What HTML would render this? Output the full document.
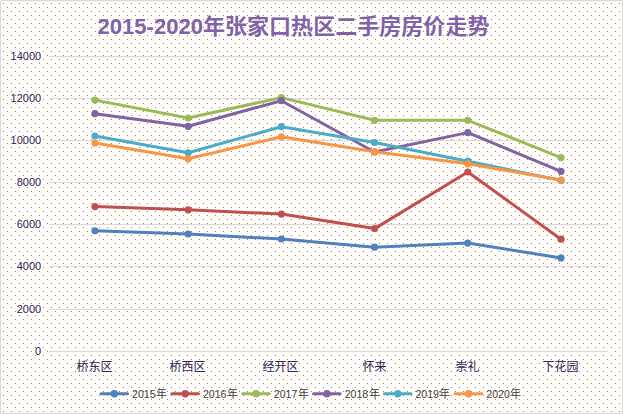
<!DOCTYPE html>
<html lang="zh"><head><meta charset="utf-8"><title>2015-2020年张家口热区二手房房价走势</title>
<style>html,body{margin:0;padding:0;background:#fff}body{width:623px;height:414px;overflow:hidden;font-family:"Liberation Sans",sans-serif}svg{display:block}text{font-family:"Liberation Sans","Noto Sans CJK SC",sans-serif}</style>
</head><body>
<svg width="623" height="414" viewBox="0 0 623 414" role="img" aria-label="2015-2020年张家口热区二手房房价走势">
<defs><pattern id="dots" x="0" y="0" width="8" height="8" patternUnits="userSpaceOnUse"><rect x="3" y="3" width="1" height="1" fill="#E46C0A"/><rect x="7" y="7" width="1" height="1" fill="#E46C0A"/></pattern></defs>
<rect x="0" y="0" width="623" height="414" fill="#fff"/>
<rect x="0" y="0" width="623" height="414" fill="url(#dots)" shape-rendering="crispEdges"/>
<rect x="0.5" y="0.5" width="622" height="413" fill="none" stroke="#D9D9D9" stroke-width="1" shape-rendering="crispEdges"/>
<rect x="0" y="0" width="1" height="1" fill="#fff"/><rect x="622" y="0" width="1" height="1" fill="#ECECEC"/><rect x="0" y="413" width="1" height="1" fill="#ECECEC"/><rect x="622" y="413" width="1" height="1" fill="#ECECEC"/>
<g fill="#D9D9D9" shape-rendering="crispEdges">
<rect x="49" y="56" width="559" height="1"/>
<rect x="49" y="98" width="559" height="1"/>
<rect x="49" y="140" width="559" height="1"/>
<rect x="49" y="182" width="559" height="1"/>
<rect x="49" y="224" width="559" height="1"/>
<rect x="49" y="266" width="559" height="1"/>
<rect x="49" y="309" width="559" height="1"/>
<rect x="49" y="351" width="559" height="1"/>
</g>
<g fill="#2D2252" font-size="11" text-anchor="end">
<text x="41.2" y="60.3">14000</text>
<text x="41.2" y="102.3">12000</text>
<text x="41.2" y="144.3">10000</text>
<text x="41.2" y="186.3">8000</text>
<text x="41.2" y="228.3">6000</text>
<text x="41.2" y="270.3">4000</text>
<text x="41.2" y="313.3">2000</text>
<text x="41.2" y="355.3">0</text>
</g>
<text x="293.5" y="34" font-size="21.3" font-weight="bold" text-anchor="middle" textLength="392" lengthAdjust="spacingAndGlyphs" fill="#7F63A8" style='font-family:"Liberation Sans","Noto Sans CJK SC",sans-serif'>2015-2020年张家口热区二手房房价走势</text>
<g stroke="#4F81BD" fill="#4F81BD"><polyline points="94.95,230.75 188.15,234.00 281.35,239.00 374.60,247.20 467.80,243.10 561.00,257.90" fill="none" stroke-width="3" stroke-linejoin="round" stroke-linecap="round"/>
<circle cx="94.95" cy="230.75" r="3.6" stroke="none"/>
<circle cx="188.15" cy="234.00" r="3.6" stroke="none"/>
<circle cx="281.35" cy="239.00" r="3.6" stroke="none"/>
<circle cx="374.60" cy="247.20" r="3.6" stroke="none"/>
<circle cx="467.80" cy="243.10" r="3.6" stroke="none"/>
<circle cx="561.00" cy="257.90" r="3.6" stroke="none"/>
</g>
<g stroke="#C0504D" fill="#C0504D"><polyline points="94.95,206.60 188.15,209.80 281.35,214.10 374.60,228.60 467.80,172.00 561.00,239.20" fill="none" stroke-width="3" stroke-linejoin="round" stroke-linecap="round"/>
<circle cx="94.95" cy="206.60" r="3.6" stroke="none"/>
<circle cx="188.15" cy="209.80" r="3.6" stroke="none"/>
<circle cx="281.35" cy="214.10" r="3.6" stroke="none"/>
<circle cx="374.60" cy="228.60" r="3.6" stroke="none"/>
<circle cx="467.80" cy="172.00" r="3.6" stroke="none"/>
<circle cx="561.00" cy="239.20" r="3.6" stroke="none"/>
</g>
<g stroke="#9BBB59" fill="#9BBB59"><polyline points="94.95,100.10 188.15,118.00 281.35,97.60 374.60,120.30 467.80,120.30 561.00,157.70" fill="none" stroke-width="3" stroke-linejoin="round" stroke-linecap="round"/>
<circle cx="94.95" cy="100.10" r="3.6" stroke="none"/>
<circle cx="188.15" cy="118.00" r="3.6" stroke="none"/>
<circle cx="281.35" cy="97.60" r="3.6" stroke="none"/>
<circle cx="374.60" cy="120.30" r="3.6" stroke="none"/>
<circle cx="467.80" cy="120.30" r="3.6" stroke="none"/>
<circle cx="561.00" cy="157.70" r="3.6" stroke="none"/>
</g>
<g stroke="#8064A2" fill="#8064A2"><polyline points="94.95,113.70 188.15,126.30 281.35,100.70 374.60,152.00 467.80,132.60 561.00,171.30" fill="none" stroke-width="3" stroke-linejoin="round" stroke-linecap="round"/>
<circle cx="94.95" cy="113.70" r="3.6" stroke="none"/>
<circle cx="188.15" cy="126.30" r="3.6" stroke="none"/>
<circle cx="281.35" cy="100.70" r="3.6" stroke="none"/>
<circle cx="374.60" cy="152.00" r="3.6" stroke="none"/>
<circle cx="467.80" cy="132.60" r="3.6" stroke="none"/>
<circle cx="561.00" cy="171.30" r="3.6" stroke="none"/>
</g>
<g stroke="#4BACC6" fill="#4BACC6"><polyline points="94.95,136.00 188.15,152.80 281.35,126.70 374.60,142.50 467.80,161.20 561.00,180.40" fill="none" stroke-width="3" stroke-linejoin="round" stroke-linecap="round"/>
<circle cx="94.95" cy="136.00" r="3.6" stroke="none"/>
<circle cx="188.15" cy="152.80" r="3.6" stroke="none"/>
<circle cx="281.35" cy="126.70" r="3.6" stroke="none"/>
<circle cx="374.60" cy="142.50" r="3.6" stroke="none"/>
<circle cx="467.80" cy="161.20" r="3.6" stroke="none"/>
<circle cx="561.00" cy="180.40" r="3.6" stroke="none"/>
</g>
<g stroke="#F79646" fill="#F79646"><polyline points="94.95,143.10 188.15,158.80 281.35,136.80 374.60,151.70 467.80,163.80 561.00,180.00" fill="none" stroke-width="3" stroke-linejoin="round" stroke-linecap="round"/>
<circle cx="94.95" cy="143.10" r="3.6" stroke="none"/>
<circle cx="188.15" cy="158.80" r="3.6" stroke="none"/>
<circle cx="281.35" cy="136.80" r="3.6" stroke="none"/>
<circle cx="374.60" cy="151.70" r="3.6" stroke="none"/>
<circle cx="467.80" cy="163.80" r="3.6" stroke="none"/>
<circle cx="561.00" cy="180.00" r="3.6" stroke="none"/>
</g>
<g fill="#2D2252" font-size="12" text-anchor="middle">
<text x="94.5" y="371">桥东区</text>
<text x="187.5" y="371">桥西区</text>
<text x="280.5" y="371">经开区</text>
<text x="374.5" y="371">怀来</text>
<text x="467.5" y="371">崇礼</text>
<text x="560.5" y="371">下花园</text>
</g>
<g fill="#4F81BD" stroke="#4F81BD"><line x1="101.00" y1="393.7" x2="127.60" y2="393.7" stroke-width="3" stroke-linecap="round"/><circle cx="114.35" cy="393.8" r="3.7" stroke="none"/></g>
<text x="132.10" y="397.9" font-size="11" textLength="23.5" lengthAdjust="spacingAndGlyphs" fill="#404040">2015</text>
<g fill="#C0504D" stroke="#C0504D"><line x1="171.85" y1="393.7" x2="198.45" y2="393.7" stroke-width="3" stroke-linecap="round"/><circle cx="185.20" cy="393.8" r="3.7" stroke="none"/></g>
<text x="202.95" y="397.9" font-size="11" textLength="23.5" lengthAdjust="spacingAndGlyphs" fill="#404040">2016</text>
<g fill="#9BBB59" stroke="#9BBB59"><line x1="242.70" y1="393.7" x2="269.30" y2="393.7" stroke-width="3" stroke-linecap="round"/><circle cx="256.05" cy="393.8" r="3.7" stroke="none"/></g>
<text x="273.80" y="397.9" font-size="11" textLength="23.5" lengthAdjust="spacingAndGlyphs" fill="#404040">2017</text>
<g fill="#8064A2" stroke="#8064A2"><line x1="313.55" y1="393.7" x2="340.15" y2="393.7" stroke-width="3" stroke-linecap="round"/><circle cx="326.90" cy="393.8" r="3.7" stroke="none"/></g>
<text x="344.65" y="397.9" font-size="11" textLength="23.5" lengthAdjust="spacingAndGlyphs" fill="#404040">2018</text>
<g fill="#4BACC6" stroke="#4BACC6"><line x1="384.40" y1="393.7" x2="411.00" y2="393.7" stroke-width="3" stroke-linecap="round"/><circle cx="397.75" cy="393.8" r="3.7" stroke="none"/></g>
<text x="415.50" y="397.9" font-size="11" textLength="23.5" lengthAdjust="spacingAndGlyphs" fill="#404040">2019</text>
<g fill="#F79646" stroke="#F79646"><line x1="455.25" y1="393.7" x2="481.85" y2="393.7" stroke-width="3" stroke-linecap="round"/><circle cx="468.60" cy="393.8" r="3.7" stroke="none"/></g>
<text x="486.35" y="397.9" font-size="11" textLength="23.5" lengthAdjust="spacingAndGlyphs" fill="#404040">2020</text>
<g fill="#404040" font-size="11">
<text x="156" y="397.9">年</text>
<text x="227" y="397.9">年</text>
<text x="298" y="397.9">年</text>
<text x="369" y="397.9">年</text>
<text x="439" y="397.9">年</text>
<text x="510" y="397.9">年</text>
</g>
</svg></body></html>
